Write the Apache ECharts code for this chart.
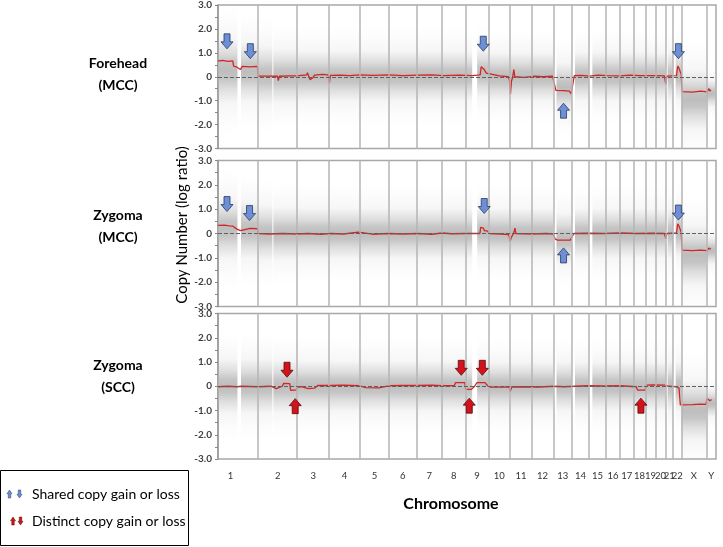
<!DOCTYPE html>
<html>
<head>
<meta charset="utf-8">
<title>Copy number</title>
<script src="https://cdn.jsdelivr.net/npm/echarts@6/dist/echarts.min.js"></script>
<style>
  html, body { margin: 0; padding: 0; background: #fff; }
  #chart { width: 723px; height: 547px; }
</style>
</head>
<body>
<div id="chart"></div>
<script>
// chromosome layout (Mb)
var chromNames = ['1','2','3','4','5','6','7','8','9','10','11','12','13','14','15','16','17','18','19','20','21','22','X','Y'];
var chromLengths = [249.3,243.2,198.0,191.2,180.9,171.1,159.1,146.4,141.2,135.5,135.0,133.9,115.2,107.3,102.5,90.4,81.2,78.1,59.1,63.0,48.1,51.3,155.3,59.4];

var panelNames = [['Forehead', '(MCC)'], ['Zygoma', '(MCC)'], ['Zygoma', '(SCC)']];

// segmented log ratio (red line): [position Mb, log ratio]
var redForehead = [[0,0.66],[30,0.68],[60,0.64],[92,0.66],[97,0.44],[118,0.4],[139,0.3],[150,0.43],[200,0.41],[245,0.43],[250,0.03],
  [300,0.03],[370,0.02],[375,-0.16],[381,0.02],[450,0.04],[492,0.04],
  [520,0.06],[552,0.08],[556,0.17],[565,0.1],[572,-0.12],[590,-0.04],[600,0.07],[650,0.1],[686,0.08],[692,-0.27],[698,0.06],
  [760,0.07],[820,0.05],[880,0.08],[960,0.06],[1060,0.08],[1150,0.05],[1240,0.07],[1330,0.08],[1400,0.05],[1500,0.07],[1580,0.05],
  [1630,0.08],[1636,0.42],[1648,0.4],[1655,0.3],[1668,0.15],[1678,0.1],
  [1750,0.04],[1805,0.0],[1812,-0.15],[1818,-0.72],[1824,-0.2],[1832,0.0],[1839,0.3],[1845,0.0],[1900,-0.03],[1960,0.02],[2020,0.0],[2080,0.02],
  [2088,-0.2],[2100,-0.57],[2150,-0.58],[2185,-0.6],[2196,-0.72],[2202,-0.45],[2215,0.05],
  [2260,0.06],[2310,0.03],[2360,0.07],[2420,0.05],[2500,0.04],[2560,0.07],[2620,0.05],[2700,0.05],[2775,0.04],[2784,-0.32],[2790,0.03],
  [2850,0.05],[2858,0.45],[2866,0.35],[2874,0.2],[2880,0.1],
  [2884,-0.62],[2950,-0.64],[3000,-0.6],[3040,-0.63],[3052,-0.5],[3058,-0.6],[3064,-0.55]];

var redZygomaMcc = [[0,0.33],[40,0.34],[70,0.31],[92,0.3],[100,0.22],[118,0.18],[139,0.12],[150,0.2],[200,0.21],[245,0.2],[250,0.0],
  [320,-0.02],[400,0.0],[492,-0.02],[560,0.0],[640,-0.03],[700,0.0],[780,-0.02],[873,0.06],[880,0.0],[960,-0.03],[1060,0.0],
  [1150,-0.02],[1240,0.0],[1330,-0.03],[1392,0.02],[1450,-0.01],[1539,0.0],[1580,0.0],[1628,0.0],[1633,0.25],[1650,0.22],[1656,0.12],
  [1678,0.1],[1684,0.0],[1760,-0.02],[1808,-0.05],[1816,-0.32],[1824,-0.15],[1838,0.0],[1846,0.22],[1852,0.0],[1950,-0.02],[2040,0.0],
  [2085,-0.02],[2095,-0.22],[2110,-0.27],[2190,-0.27],[2198,-0.3],[2212,0.0],[2300,0.01],[2400,0.0],[2500,0.02],[2600,0.0],[2700,0.01],
  [2775,0.0],[2784,-0.22],[2790,0.0],[2850,0.02],[2858,0.4],[2866,0.3],[2874,0.15],[2880,0.05],
  [2884,-0.68],[2950,-0.7],[3000,-0.68],[3040,-0.7],[3052,-0.6],[3064,-0.65]];

var redZygomaScc = [[0,-0.02],[60,0.0],[120,-0.02],[145,0.0],[249,-0.02],[330,0.0],[362,-0.1],[372,-0.02],[400,0.0],[408,0.12],[446,0.11],
  [452,-0.17],[488,-0.15],[494,-0.03],[520,-0.02],[530,0.05],[560,-0.1],[600,-0.08],[620,0.03],[700,0.03],[780,0.05],[880,0.02],
  [920,-0.06],[1000,-0.07],[1060,0.02],[1150,0.04],[1240,0.03],[1330,0.05],[1392,0.02],[1470,0.03],[1476,0.15],[1534,0.15],
  [1540,-0.13],[1575,-0.13],[1595,0.0],[1610,0.15],[1660,0.15],[1672,0.05],[1685,-0.03],[1760,-0.04],[1810,-0.03],[1817,-0.22],
  [1825,-0.03],[1900,-0.02],[2000,-0.03],[2085,0.0],[2150,-0.02],[2220,0.0],[2300,0.02],[2400,0.01],[2500,0.02],[2600,-0.02],
  [2608,-0.16],[2655,-0.16],[2664,0.05],[2700,0.06],[2780,0.05],[2800,0.0],[2850,-0.02],[2858,-0.1],[2866,-0.08],[2874,-0.77],
  [2950,-0.76],[3000,-0.74],[3034,-0.75],[3040,-0.5],[3050,-0.45],[3058,-0.6],[3068,-0.55]];

// probe cloud: [start Mb, end Mb, centre, spread]
var cloudForehead = [[0,121,0.25,0.6],[143,249.3,0.22,0.55],[249.3,338,0.05,0.55],[344,492.5,0.03,0.5],[492.5,690.5,0.03,0.47],
  [690.5,1539.2,0.03,0.47],[1539.2,1580,0.03,0.45],[1611,1680.4,0.15,0.45],[1680.4,2084.8,0.0,0.45],[2104,2200,-0.45,0.47],
  [2219,2307.3,0.02,0.45],[2327,2781.6,0.02,0.45],[2795,2830,0.02,0.45],[2845,2881,0.05,0.45],[2881,3036.3,-0.95,0.55],[3036.3,3095.7,-0.7,0.25]];
var cloudZygomaMcc = [[0,121,0.2,0.55],[143,249.3,0.15,0.52],[249.3,338,0.02,0.5],[344,492.5,0.0,0.48],[492.5,1539.2,0.0,0.46],
  [1539.2,1580,0.0,0.45],[1611,1680.4,0.08,0.45],[1680.4,2084.8,0.0,0.45],[2104,2200,-0.2,0.46],[2219,2307.3,0.0,0.45],
  [2327,2781.6,0.0,0.45],[2795,2830,0.0,0.45],[2845,2881,0.05,0.45],[2881,3036.3,-0.9,0.55],[3036.3,3095.7,-0.7,0.25]];
var cloudZygomaScc = [[0,121,0.0,0.5],[143,249.3,0.0,0.5],[249.3,338,0.0,0.5],[344,492.5,0.0,0.48],[492.5,1539.2,0.0,0.46],
  [1539.2,1580,-0.05,0.45],[1611,1680.4,0.08,0.45],[1680.4,2084.8,0.0,0.45],[2104,2200,0.0,0.45],[2219,2307.3,0.0,0.45],
  [2327,2781.6,0.0,0.45],[2795,2830,0.0,0.45],[2845,2881,0.0,0.45],[2881,3036.3,-1.0,0.55],[3036.3,3095.7,-0.7,0.25]];

// arrows: [position Mb, log ratio, direction]
var arrowsForehead = [[56,1.48,'down'],[201,1.07,'down'],[1649,1.38,'down'],[2862,1.07,'down'],[2148,-1.42,'up']];
var arrowsZygomaMcc = [[56,1.21,'down'],[196,0.84,'down'],[1655,1.13,'down'],[2862,0.86,'down'],[2148,-0.9,'up']];
var arrowsZygomaScc = [[429,0.68,'down'],[480,-0.82,'up'],[1512,0.76,'down'],[1643,0.76,'down'],[1562,-0.8,'up'],[2629,-0.8,'up']];

var reds = [redForehead, redZygomaMcc, redZygomaScc];
var clouds = [cloudForehead, cloudZygomaMcc, cloudZygomaScc];
var arrows = [arrowsForehead, arrowsZygomaMcc, arrowsZygomaScc];
var arrowColors = [['#6d8fd6', '#2b3b66'], ['#6d8fd6', '#2b3b66'], ['#d3131c', '#5c0a0a']];

var starts = [], acc = 0;
chromLengths.forEach(function (l) { starts.push(acc); acc += l; });
var total = acc;
var mids = starts.map(function (s, i) { return +(s + chromLengths[i] / 2).toFixed(2); });
mids[0] = 78; // chr1 label sits under the p arm
var boundaries = starts.slice(1);

var downPath = 'path://M3,0L9,0L9,8L12,8L6,15L0,8L3,8Z';
var upPath = 'path://M6,0L12,7L9,7L9,15L3,15L3,7L0,7Z';
var upPts = [[6,0],[12,7],[9,7],[9,15],[3,15],[3,7],[0,7]];
var downPts = [[3,0],[9,0],[9,8],[12,8],[6,15],[0,8],[3,8]];

var grids = [
  {left: 218, right: 7, top: 3, height: 145.5},
  {left: 218, right: 7, top: 160.5, height: 146},
  {left: 218, right: 7, top: 313.5, height: 145.5}
];
grids.forEach(function (g) {
  g.show = true; g.borderColor = '#a8a8a8'; g.borderWidth = 1.5; g.backgroundColor = '#fff';
});

var g = 'rgba(182,182,182,';
var cloudStops = [
  {offset: 0, color: g + '0)'},
  {offset: 0.1, color: g + '0.03)'},
  {offset: 0.25, color: g + '0.12)'},
  {offset: 0.36, color: g + '0.45)'},
  {offset: 0.44, color: g + '0.8)'},
  {offset: 0.5, color: g + '0.9)'},
  {offset: 0.56, color: g + '0.8)'},
  {offset: 0.64, color: g + '0.45)'},
  {offset: 0.75, color: g + '0.12)'},
  {offset: 0.9, color: g + '0.03)'},
  {offset: 1, color: g + '0)'}
];

var xAxes = [], yAxes = [], series = [];
for (var i = 0; i < 3; i++) {
  xAxes.push({
    gridIndex: i, type: 'value', min: 0, max: total,
    axisLine: {show: false}, axisTick: {show: false}, splitLine: {show: false},
    axisLabel: {
      show: i === 2, customValues: mids, margin: 12,
      fontFamily: 'Lato', fontSize: 9.5, color: '#333',
      formatter: function (v) {
        for (var k = 0; k < mids.length; k++) if (Math.abs(mids[k] - v) < 0.01) return chromNames[k];
        return '';
      }
    }
  });
  yAxes.push({
    gridIndex: i, type: 'value', min: -3, max: 3, interval: 1,
    axisLine: {show: true, lineStyle: {color: '#9a9a9a', width: 1.5}},
    axisTick: {show: true, length: 3, lineStyle: {color: '#888'}},
    minorTick: {show: true, splitNumber: 2, length: 3, lineStyle: {color: '#888'}},
    splitLine: {show: false},
    axisLabel: {
      fontFamily: 'Lato', fontWeight: 'bold', fontSize: 10, color: '#404040', margin: 6,
      formatter: function (v) { return v === 0 ? '0' : v.toFixed(1); }
    }
  });

  series.push({
    type: 'custom', xAxisIndex: i, yAxisIndex: i, clip: true, silent: true, z: 1,
    data: clouds[i],
    renderItem: function (params, api) {
      var x0 = api.value(0), x1 = api.value(1), c = api.value(2), s = api.value(3);
      var p0 = api.coord([x0, c + 4.5 * s]);
      var p1 = api.coord([x1, c - 4.5 * s]);
      return {
        type: 'rect',
        shape: {x: p0[0], y: p0[1], width: p1[0] - p0[0], height: p1[1] - p0[1]},
        style: {fill: new echarts.graphic.LinearGradient(0, 0, 0, 1, cloudStops), stroke: null}
      };
    }
  });

  series.push({
    type: 'line', xAxisIndex: i, yAxisIndex: i, data: [], z: 2, silent: true,
    markLine: {
      silent: true, symbol: 'none', label: {show: false}, animation: false,
      lineStyle: {color: '#b4b4b4', width: 1.5, type: 'solid'},
      data: boundaries.map(function (b) { return {xAxis: b}; }).concat([
        {yAxis: 0, lineStyle: {color: '#606060', width: 1, type: [4, 2]}}
      ])
    }
  });

  series.push({
    type: 'line', xAxisIndex: i, yAxisIndex: i, data: reds[i], z: 4,
    symbol: 'none', silent: true, animation: false,
    lineStyle: {color: '#d42424', width: 1.3}
  });

  ['down', 'up'].forEach(function (dir) {
    series.push({
      type: 'scatter', xAxisIndex: i, yAxisIndex: i, z: 5, silent: true,
      symbol: dir === 'down' ? downPath : upPath, symbolSize: [12, 15],
      itemStyle: {color: arrowColors[i][0], borderColor: arrowColors[i][1], borderWidth: 0.8, opacity: 1},
      data: arrows[i].filter(function (a) { return a[2] === dir; }).map(function (a) { return [a[0], a[1]]; })
    });
  });
}

var graphics = [];
var labelY = [[63, 85], [215, 237], [365, 387]];
panelNames.forEach(function (n, i) {
  n.forEach(function (t, j) {
    graphics.push({type: 'text', x: 118, y: labelY[i][j], style: {
      text: t, fontFamily: 'Lato', fontWeight: 'bold', fontSize: 14, fill: '#000',
      textAlign: 'center', textVerticalAlign: 'middle'}});
  });
});
graphics.push({type: 'text', x: 182, y: 225, rotation: Math.PI / 2, style: {
  text: 'Copy Number (log ratio)', fontFamily: 'Lato', fontSize: 15, fill: '#000',
  textAlign: 'center', textVerticalAlign: 'middle'}});
graphics.push({type: 'text', x: 451, y: 504, style: {
  text: 'Chromosome', fontFamily: 'Lato', fontWeight: 'bold', fontSize: 16, fill: '#000',
  textAlign: 'center', textVerticalAlign: 'middle'}});

// legend box
graphics.push({type: 'rect', shape: {x: 0.5, y: 470.5, width: 188, height: 75}, style: {fill: '#fff', stroke: '#000', lineWidth: 1}});
var legendItems = [
  {y: 494, text: 'Shared copy gain or loss', fill: '#6d8fd6', stroke: '#2b3b66', upX: 7, downX: 17},
  {y: 521, text: 'Distinct copy gain or loss', fill: '#d3131c', stroke: '#5c0a0a', upX: 10.5, downX: 18}
];
function iconPoints(pts, x, y) {
  return pts.map(function (p) { return [x + p[0] * 5 / 12, y + p[1] * 8 / 15]; });
}
legendItems.forEach(function (it) {
  graphics.push({type: 'polygon', shape: {points: iconPoints(upPts, it.upX, it.y - 4)},
    style: {fill: it.fill, stroke: it.stroke, lineWidth: 0.5}});
  graphics.push({type: 'polygon', shape: {points: iconPoints(downPts, it.downX, it.y - 4)},
    style: {fill: it.fill, stroke: it.stroke, lineWidth: 0.5}});
  graphics.push({type: 'text', x: 32, y: it.y, style: {
    text: it.text, fontFamily: 'Lato', fontSize: 14, fill: '#000', textVerticalAlign: 'middle'}});
});

var chart = echarts.init(document.getElementById('chart'));
chart.setOption({
  animation: false,
  backgroundColor: '#fff',
  grid: grids,
  xAxis: xAxes,
  yAxis: yAxes,
  series: series,
  graphic: graphics
});
</script>
</body>
</html>
